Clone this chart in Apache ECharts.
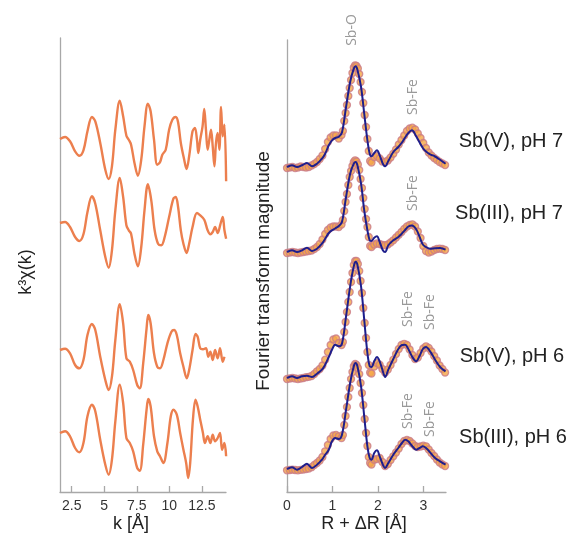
<!DOCTYPE html>
<html>
<head>
<meta charset="utf-8">
<script src="https://cdn.jsdelivr.net/npm/echarts@6/dist/echarts.min.js"></script>
<style>
  html, body { margin: 0; padding: 0; background: #fff; }
  #chart { width: 573px; height: 534px; }
</style>
</head>
<body>
<div id="chart"></div>
<script>
// ---- k-space EXAFS spectra (k^3-weighted, arbitrary units, stacked) ----
const kTicks = [2.5, 5, 7.5, 10, 12.5];
const sampleNames = ['Sb(V), pH 7', 'Sb(III), pH 7', 'Sb(V), pH 6', 'Sb(III), pH 6'];
const kOffsets = [35.3, 26.9, 14.2, 5.9];

const k1 = [1.60,1.99,2.37,2.76,3.09,3.40,3.71,4.05,4.31,4.69,5.08,5.34,5.59,5.85,6.19,6.45,6.70,6.88,7.06,7.32,7.58,7.84,8.09,8.35,8.56,8.82,9.07,9.28,9.46,9.72,9.98,10.23,10.49,10.67,10.88,11.14,11.32,11.52,11.78,11.96,12.12,12.22,12.37,12.55,12.68,12.81,12.94,13.07,13.20,13.33,13.46,13.58,13.71,13.84,13.97,14.10,14.23,14.36];
const chi1 = [0,0.2,-0.23,-1.23,-1.67,-1.13,0.77,2.2,1.77,-0.4,-3.07,-4.0,-2.73,0.93,3.83,2.27,0.33,-0.07,-0.57,-2.4,-3.67,-2.07,1.27,3.53,2.77,-0.07,-2.57,-2.33,-1.57,-1.07,0.93,1.93,2.2,1.67,-0.4,-2.07,-3.0,-1.73,0.77,1.1,-0.07,-1.4,-0.07,1.27,3.0,0.93,-1.07,-0.07,0.93,-0.73,-2.73,-0.4,0.6,-1.07,3.2,0.27,1.43,-4.23];

const k2 = [1.60,1.99,2.37,2.76,3.09,3.40,3.71,4.05,4.31,4.69,5.08,5.34,5.59,5.85,6.19,6.45,6.70,6.88,7.06,7.32,7.58,7.84,8.09,8.35,8.61,8.87,9.13,9.38,9.64,9.98,10.31,10.49,10.67,10.88,11.08,11.32,11.52,11.78,12.12,12.37,12.68,12.94,13.15,13.33,13.51,13.71,13.92,14.10,14.23,14.36];
const chi2 = [0,0.1,-0.4,-1.4,-1.8,-1.13,1.1,2.67,1.93,-0.73,-3.4,-4.47,-2.73,1.27,4.5,2.6,-0.23,-0.73,-1.07,-3.07,-4.33,-2.4,1.27,3.87,2.27,-0.73,-2.07,-2.23,-1.4,0.6,2.43,2.6,1.6,-0.73,-2.07,-3.0,-2.07,-0.4,1.0,0.77,0.33,-0.73,-1.13,-0.9,-0.4,-1.0,-0.13,0.6,-0.73,-1.57];

const k3 = [1.60,1.99,2.37,2.76,3.09,3.40,3.71,4.05,4.31,4.69,5.08,5.34,5.59,5.85,6.19,6.45,6.70,6.96,7.22,7.53,7.73,7.99,8.25,8.38,8.56,8.82,9.07,9.28,9.54,9.85,10.16,10.36,10.57,10.83,11.08,11.34,11.52,11.78,12.01,12.17,12.37,12.58,12.81,12.99,13.15,13.33,13.51,13.71,13.89,14.10,14.23];
const chi3 = [0,0.13,-0.33,-1.5,-1.83,-1.0,1.5,2.6,2.0,-0.67,-3.0,-4.0,-2.67,1.0,4.57,2.67,-0.83,-1.17,-2.0,-3.5,-3.83,-1.33,2.17,3.5,2.67,-0.33,-1.67,-1.83,-1.0,0.67,1.83,2.0,1.5,-0.33,-1.67,-2.83,-2.0,0,1.6,1.33,0.17,0.07,0.17,-0.67,-0.17,-1.0,0,-0.83,0.17,-1.17,-0.67];

const k4 = [1.60,1.99,2.37,2.76,3.09,3.40,3.71,4.05,4.31,4.69,5.08,5.34,5.59,5.85,6.19,6.45,6.70,6.96,7.22,7.53,7.73,7.99,8.25,8.38,8.56,8.82,9.07,9.28,9.54,9.85,10.11,10.31,10.57,10.83,11.08,11.29,11.45,11.60,11.81,12.01,12.17,12.37,12.58,12.73,12.94,13.15,13.33,13.51,13.71,13.89,14.05,14.23,14.36];
const chi4 = [0,0.17,-0.33,-1.5,-1.93,-1.0,1.67,2.83,2.17,-0.67,-3.17,-4.17,-2.67,1.17,4.83,3.0,-0.5,-1.0,-1.83,-3.5,-3.77,-1.17,2.33,3.4,2.67,-0.33,-1.83,-2.33,-3.0,-1.0,1.67,2.33,1.83,0,-1.67,-3.0,-4.5,-3.0,1.33,3.33,2.67,1.33,0,-1.0,-0.33,-1.0,-0.17,-0.83,-0.5,0,-1.67,-1.0,-2.33];

// ---- Fourier transform magnitudes (R-space, stacked) ----
const rTicks = [0, 1, 2, 3];
const ftOffsets = [32.5, 24.0, 11.4, 2.3];

// measured FT magnitude
const dataR = [0,0.06,0.12,0.18,0.24,0.30,0.36,0.42,0.48,0.54,0.60,0.66,0.72,0.78,0.84,0.90,0.96,1.02,1.08,1.14,1.20,
  1.23,1.26,1.29,1.32,1.35,1.38,1.41,1.44,1.47,1.50,1.53,1.56,1.59,1.62,1.65,1.68,1.71,1.74,1.77,1.80,1.83,1.86,
  1.92,1.98,2.04,2.10,2.16,2.22,2.28,2.34,2.40,2.46,2.52,2.58,2.64,2.70,2.76,2.82,2.88,2.94,3.00,3.06,3.12,3.18,3.24,3.30,3.36,3.42,3.48];
const ftDataA = [-0.1,-0.05,0,-0.1,-0.05,0.05,0,-0.05,0,0.15,0.3,0.5,0.8,1.15,1.8,2.5,2.95,3.15,3.15,2.85,3.2,
  3.6,4.6,5.4,6.2,7.1,7.9,8.7,9.4,9.95,10.17,10.1,9.85,9.3,8.5,7.5,6.4,5.2,4.0,2.8,1.6,0.6,0.45,
  1.0,1.1,0.85,0.55,0.5,0.65,0.95,1.33,1.75,2.25,2.7,3.15,3.6,3.85,3.93,3.75,3.35,2.9,2.4,1.9,1.45,1.15,0.9,0.7,0.5,0.35,0.2];
const ftDataB = [-0.1,-0.05,0,-0.05,-0.1,-0.05,0,0.05,0.1,0.15,0.3,0.5,0.8,1.25,1.8,2.2,2.45,2.55,2.55,2.5,2.75,
  3.2,4.1,5.0,5.8,6.7,7.5,8.1,8.6,9.0,9.17,9.05,8.75,8.2,7.3,6.4,5.4,4.3,3.3,2.5,1.5,0.6,0.5,
  0.75,0.85,0.8,0.7,0.68,0.75,0.95,1.17,1.45,1.72,2.0,2.3,2.55,2.7,2.77,2.55,2.05,1.4,0.6,0.1,-0.05,0.05,0.2,0.3,0.33,0.3,0.2];
const ftDataC = [-0.1,-0.05,0,-0.05,-0.1,-0.05,0,0.08,0.12,0.2,0.4,0.67,0.9,1.25,1.83,2.6,3.3,3.85,3.95,3.5,3.3,
  3.6,4.6,5.6,6.6,7.6,8.6,9.6,10.5,11.3,11.7,11.7,11.4,10.7,9.7,8.5,7.0,5.5,4.0,2.6,1.3,0.55,0.45,
  1.15,1.5,1.33,0.9,0.55,0.85,1.3,1.83,2.4,2.9,3.3,3.42,3.3,2.85,2.3,1.9,2.05,2.5,2.95,3.17,3.0,2.65,2.2,1.75,1.25,0.9,0.55];
const ftDataD = [-0.13,-0.1,-0.07,-0.1,-0.13,-0.08,-0.05,0,0.05,0.18,0.4,0.6,0.85,1.2,1.77,2.4,3.0,3.35,3.4,3.27,3.1,
  3.4,4.4,5.3,6.2,7.2,8.1,9.0,9.7,10.27,10.5,10.4,10.1,9.5,8.6,7.6,6.4,5.0,3.6,2.3,1.2,0.6,0.45,
  0.93,1.0,1.1,0.7,0.3,0.5,0.9,1.27,1.65,2.05,2.5,2.8,2.9,2.8,2.55,2.3,2.2,2.25,2.33,2.27,1.95,1.6,1.3,0.95,0.65,0.45,0.3];

// shell-fit model
const fitR = [0,0.11,0.22,0.33,0.44,0.55,0.66,0.77,0.84,0.92,0.99,1.06,1.14,1.21,1.30,1.39,1.47,1.51,1.55,1.63,1.70,1.77,1.82,1.86,1.92,1.98,2.04,2.11,2.16,2.23,2.34,2.45,2.53,2.60,2.67,2.75,2.84,2.92,2.99,3.06,3.15,3.26,3.37,3.49];
const ftFitA = [0,0.17,0,0.17,0.4,0.07,0.33,0.83,1.33,2.17,2.67,2.9,3.03,3.45,6.0,8.5,9.83,10.07,9.73,8.0,5.33,2.67,1.33,1.07,1.4,1.67,1.17,0.33,0.07,0.6,1.5,2.0,2.45,2.95,3.4,3.67,3.1,2.45,1.9,1.55,1.27,1.05,0.72,0.33];
const ftFitB = [0,0.17,0,0.17,0.43,0.1,0.33,0.83,1.33,1.9,2.17,2.35,2.6,3.0,5.5,7.83,8.83,9.0,8.67,6.83,4.17,2.17,1.17,1.1,1.43,1.57,1.0,0.17,0,0.67,1.17,1.5,1.85,2.2,2.55,2.65,2.3,1.5,0.75,0.5,0.33,0.38,0.4,0.23];
const ftFitC = [0,0.17,0,0.17,0.23,0.1,0.43,0.83,1.33,2.1,2.83,3.33,3.17,3.43,6.17,9.17,11.17,11.63,11.33,9.17,5.83,2.5,1.17,1.1,1.67,2.1,1.67,0.67,0.1,0.83,1.9,2.9,3.3,3.33,2.9,2.17,1.67,2.23,2.9,3.1,2.67,1.83,1.1,0.67];
const ftFitD = [0,0.17,-0.07,0.2,0.53,0.1,0.43,0.93,1.43,1.93,2.77,3.1,3.0,3.43,5.93,8.6,10.27,10.6,10.27,8.27,5.27,2.27,1.1,0.93,1.6,1.87,1.27,0.43,0.1,0.6,1.43,2.1,2.6,2.93,2.77,2.33,1.93,2.1,2.27,2.1,1.67,1.1,0.77,0.43];

// ---- styling ----
const FONT = '"Liberation Sans", Arial, sans-serif';
const NOTE_FONT = '"Open Sans", "DejaVu Sans", sans-serif';
const AXIS_GREY = '#a8a8a8';
const CHI_COLOR = '#ec7f4e';
const DOT_FILL = '#f5a646';
const DOT_EDGE = '#c97a88';
const FIT_COLOR = '#1e1e8c';

const chiSets = [[k1, chi1], [k2, chi2], [k3, chi3], [k4, chi4]];
const ftData = [ftDataA, ftDataB, ftDataC, ftDataD];
const ftFit = [ftFitA, ftFitB, ftFitC, ftFitD];

const series = [];
chiSets.forEach(([ks, vs], i) => {
  series.push({
    type: 'line', xAxisIndex: 0, yAxisIndex: 0,
    name: sampleNames[i],
    data: ks.map((k, j) => [k, vs[j] + kOffsets[i]]),
    showSymbol: false, smooth: 0.35,
    lineStyle: { color: CHI_COLOR, width: 2.4 },
    silent: true
  });
});
ftData.forEach((vals, i) => {
  // measured points as open-edged dots, model as a solid line on top
  series.push({
    type: 'scatter', xAxisIndex: 1, yAxisIndex: 1,
    data: dataR.map((r, j) => [r, vals[j] + ftOffsets[i]]),
    symbolSize: 7,
    itemStyle: { color: DOT_FILL, borderColor: DOT_EDGE, borderWidth: 1.3 },
    silent: true, z: 3
  });
  series.push({
    type: 'line', xAxisIndex: 1, yAxisIndex: 1,
    data: fitR.map((r, j) => [r, ftFit[i][j] + ftOffsets[i]]),
    showSymbol: false, smooth: 0.35,
    lineStyle: { color: FIT_COLOR, width: 2 },
    silent: true, z: 4
  });
});

function axisX(gridIndex, min, max, ticks) {
  return {
    type: 'value', gridIndex, min, max,
    axisLine: { show: true, lineStyle: { color: AXIS_GREY, width: 1.3 } },
    axisTick: { show: true, inside: true, length: 6, customValues: ticks, lineStyle: { color: AXIS_GREY, width: 1.3 } },
    axisLabel: { customValues: ticks, fontSize: 14, color: '#333', fontFamily: FONT, margin: 7 },
    splitLine: { show: false }
  };
}
function axisY(gridIndex, max) {
  return {
    type: 'value', gridIndex, min: 0, max,
    axisLine: { show: true, lineStyle: { color: AXIS_GREY, width: 1.3 } },
    axisTick: { show: false }, axisLabel: { show: false }, splitLine: { show: false }
  };
}

function label(text, x, y, size, color, rotated, family) {
  return {
    type: 'text', x, y, rotation: rotated ? Math.PI / 2 : 0, silent: true,
    style: { text, font: size + 'px ' + (family || FONT), fill: color, align: 'center', verticalAlign: 'middle' }
  };
}

const chart = echarts.init(document.getElementById('chart'), null, { renderer: 'canvas' });
chart.setOption({
  animation: false,
  backgroundColor: '#fff',
  grid: [
    { left: 60, top: 38, width: 166, height: 454 },
    { left: 287, top: 40, width: 159, height: 452 }
  ],
  xAxis: [axisX(0, 1.6, 14.35, kTicks), axisX(1, 0, 3.5, rTicks)],
  yAxis: [axisY(0, 45.4), axisY(1, 45.2)],
  series,
  graphic: [
    label('k³χ(k)', 26, 272, 18, '#222', true),
    label('k [Å]', 131, 524, 18, '#222', false),
    label('Fourier transform magnitude', 264, 271, 19, '#222', true),
    label('R + ΔR [Å]', 364, 524, 18, '#222', false),
    label('Sb-O', 352, 30, 14, '#999', true, NOTE_FONT),
    label('Sb-Fe', 413, 97, 14, '#999', true, NOTE_FONT),
    label('Sb-Fe', 413, 193, 14, '#999', true, NOTE_FONT),
    label('Sb-Fe', 408, 309, 14, '#999', true, NOTE_FONT),
    label('Sb-Fe', 430, 312, 14, '#999', true, NOTE_FONT),
    label('Sb-Fe', 408, 411, 14, '#999', true, NOTE_FONT),
    label('Sb-Fe', 430, 419, 14, '#999', true, NOTE_FONT),
    label(sampleNames[0], 511, 141, 20, '#222', false),
    label(sampleNames[1], 509, 213, 20, '#222', false),
    label(sampleNames[2], 512, 356, 20, '#222', false),
    label(sampleNames[3], 513, 437, 20, '#222', false)
  ]
});
</script>
</body>
</html>
